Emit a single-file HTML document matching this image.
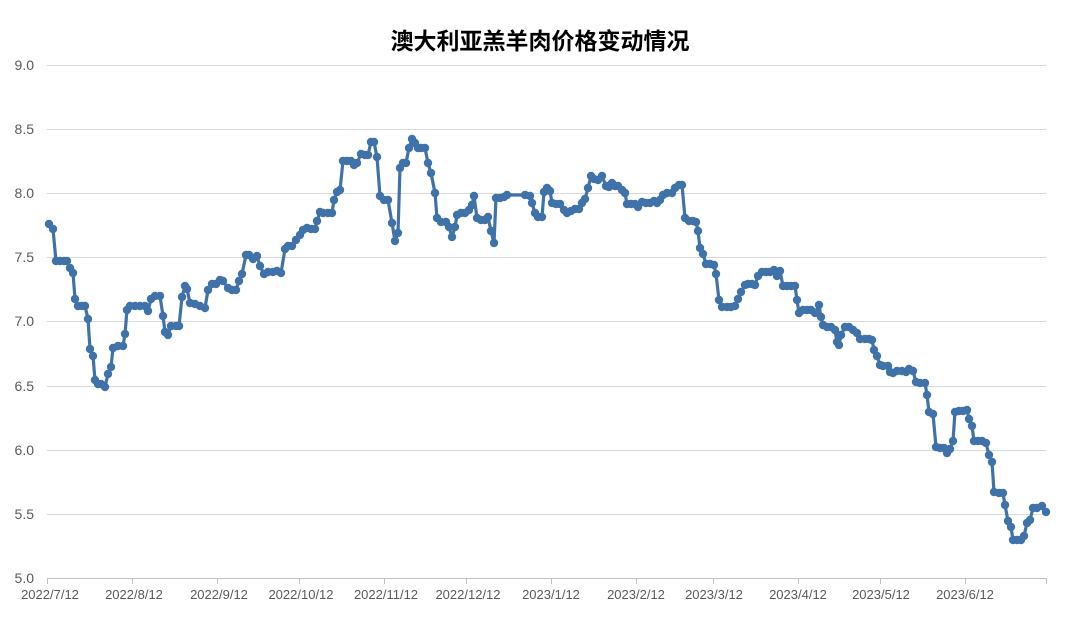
<!DOCTYPE html>
<html><head><meta charset="utf-8"><style>
html,body{margin:0;padding:0;background:#fff;}
svg{display:block;}
</style></head><body>
<svg width="1080" height="627" xmlns="http://www.w3.org/2000/svg">
<rect x="0" y="0" width="1080" height="627" fill="#fff"/>
<text x="540" y="49" text-anchor="middle" font-family="'Liberation Sans','Noto Sans CJK SC',sans-serif" font-size="23" font-weight="bold" fill="#000">澳大利亚羔羊肉价格变动情况</text>
<g stroke="#d9d9d9" stroke-width="1">
<line x1="47" y1="65.5" x2="1046" y2="65.5"/>
<line x1="47" y1="129.5" x2="1046" y2="129.5"/>
<line x1="47" y1="193.5" x2="1046" y2="193.5"/>
<line x1="47" y1="257.5" x2="1046" y2="257.5"/>
<line x1="47" y1="321.5" x2="1046" y2="321.5"/>
<line x1="47" y1="386.5" x2="1046" y2="386.5"/>
<line x1="47" y1="450.5" x2="1046" y2="450.5"/>
<line x1="47" y1="514.5" x2="1046" y2="514.5"/>
</g>
<line x1="47" y1="578.5" x2="1046" y2="578.5" stroke="#bfbfbf" stroke-width="1"/>
<g stroke="#bfbfbf" stroke-width="1">
<line x1="47.5" y1="578" x2="47.5" y2="584"/><line x1="132.5" y1="578" x2="132.5" y2="584"/><line x1="217.5" y1="578" x2="217.5" y2="584"/><line x1="299.5" y1="578" x2="299.5" y2="584"/><line x1="384.5" y1="578" x2="384.5" y2="584"/><line x1="466.5" y1="578" x2="466.5" y2="584"/><line x1="551.5" y1="578" x2="551.5" y2="584"/><line x1="636.5" y1="578" x2="636.5" y2="584"/><line x1="713.5" y1="578" x2="713.5" y2="584"/><line x1="798.5" y1="578" x2="798.5" y2="584"/><line x1="880.5" y1="578" x2="880.5" y2="584"/><line x1="965.5" y1="578" x2="965.5" y2="584"/><line x1="1046.5" y1="578" x2="1046.5" y2="584"/>
</g>
<g font-family="'Liberation Sans',sans-serif" font-size="14" fill="#595959" text-anchor="end">
<text x="34" y="70">9.0</text><text x="34" y="134">8.5</text><text x="34" y="198">8.0</text><text x="34" y="262">7.5</text><text x="34" y="326">7.0</text><text x="34" y="391">6.5</text><text x="34" y="455">6.0</text><text x="34" y="519">5.5</text><text x="34" y="583">5.0</text>
</g>
<g font-family="'Liberation Sans',sans-serif" font-size="13" fill="#595959" text-anchor="middle">
<text x="50" y="599">2022/7/12</text><text x="134" y="599">2022/8/12</text><text x="219" y="599">2022/9/12</text><text x="301" y="599">2022/10/12</text><text x="386" y="599">2022/11/12</text><text x="468" y="599">2022/12/12</text><text x="551" y="599">2023/1/12</text><text x="636" y="599">2023/2/12</text><text x="714" y="599">2023/3/12</text><text x="798" y="599">2023/4/12</text><text x="881" y="599">2023/5/12</text><text x="965" y="599">2023/6/12</text>
</g>
<polyline id="ln" fill="none" stroke="#3f72a8" stroke-width="3.2" stroke-linejoin="round" points="49,224 53,229 56,261 60,261 64,261 67,261 70,268 73,273 75,299 78,306 82,306 85,306 88,319 90,349 93,356 95,380 98,384 101,384 105,387 108,374 111,367 113,348 118,346 123,346 125,334 127,310 130,306 135,306 140,306 145,306 148,311 151,299 155,296 160,296 163,316 165,332 168,335 171,326 176,326 179,326 182,297 185,286 187,289 190,303 195,304 200,306 205,308 208,290 212,284 216,284 220,280 223,281 228,288 232,290 236,290 239,281 242,274 246,255 249,255 253,259 257,256 260,266 264,274 268,272 273,272 277,271 281,273 285,249 288,246 292,246 296,240 300,235 303,230 307,228 311,229 315,229 317,221 320,212 323,213 328,213 332,213 334,200 337,192 340,190 343,161 347,161 351,161 354,165 357,163 361,154 365,155 368,155 371,142 374,142 377,157 380,196 384,200 388,200 392,223 395,241 398,233 400,168 403,163 406,163 409,148 412,139 415,143 418,148 421,148 425,148 428,163 431,173 435,193 437,218 441,222 446,222 449,227 452,237 455,227 457,215 461,213 465,213 469,210 472,205 474,196 477,218 481,220 485,220 488,217 491,231 494,243 496,198 500,198 504,197 507,195 525,195 530,196 532,203 535,213 538,217 542,217 544,192 547,188 550,191 552,203 556,204 560,204 564,210 567,213 571,211 575,209 579,209 582,203 585,199 588,188 591,176 594,179 598,180 602,176 606,186 609,187 612,183 615,186 618,186 622,190 625,193 627,204 631,204 635,204 638,207 642,202 646,203 650,203 654,201 657,203 660,200 663,195 667,193 672,193 675,188 679,185 682,185 685,218 689,221 693,221 696,222 698,231 700,248 703,254 706,264 710,264 714,265 716,274 719,300 722,307 727,307 731,307 735,306 738,299 741,292 745,285 748,284 752,284 755,285 758,276 762,272 766,272 770,272 774,270 777,276 780,271 783,286 787,286 791,286 795,286 797,300 799,313 803,310 807,310 811,310 815,313 819,305 821,317 823,325 827,327 831,327 835,330 837,342 839,345 841,335 845,327 849,327 853,330 857,333 860,339 865,339 869,339 872,340 874,350 877,356 880,365 883,366 888,366 890,372 893,373 897,371 902,371 906,372 909,369 913,371 916,382 920,383 925,383 927,395 929,412 933,414 936,447 940,448 944,448 947,453 950,449 953,441 955,412 959,411 963,411 967,410 969,419 972,426 974,441 978,441 982,441 986,443 989,455 992,462 994,492 999,493 1003,493 1005,505 1008,521 1011,527 1013,540 1017,540 1021,540 1024,536 1027,523 1030,520 1033,508 1037,508 1042,506 1046,512"/>
<g id="mk" fill="#3f72a8"></g>
<script>
var p=document.getElementById('ln').getAttribute('points').trim().split(/\s+/);
var g=document.getElementById('mk');
p.forEach(function(s){var a=s.split(',');var c=document.createElementNS('http://www.w3.org/2000/svg','circle');c.setAttribute('cx',a[0]);c.setAttribute('cy',a[1]);c.setAttribute('r','4.2');g.appendChild(c);});
</script>
</svg>
</body></html>
